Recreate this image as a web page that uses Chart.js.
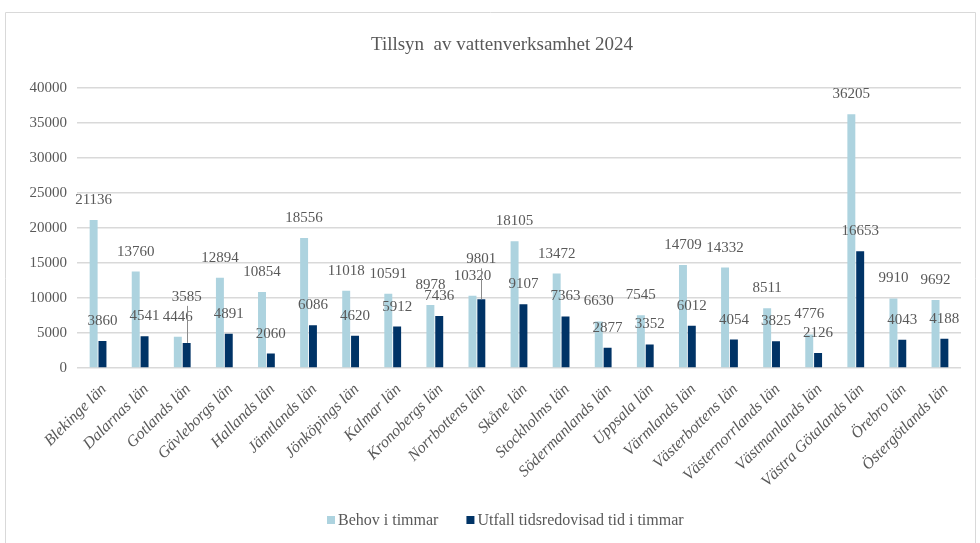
<!DOCTYPE html>
<html>
<head>
<meta charset="utf-8">
<title>Tillsyn av vattenverksamhet 2024</title>
<script src="https://cdn.jsdelivr.net/npm/chart.js@4.4.1/dist/chart.umd.min.js"></script>
<style>
  html, body { margin: 0; padding: 0; background: #fff; }
  #wrap { width: 980px; height: 543px; position: relative; }
</style>
</head>
<body>
<div id="wrap"><canvas id="chart" width="980" height="543"></canvas></div>
<script>
// data
const categories = [
  "Blekinge län", "Dalarnas län", "Gotlands län", "Gävleborgs län", "Hallands län",
  "Jämtlands län", "Jönköpings län", "Kalmar län", "Kronobergs län", "Norrbottens län",
  "Skåne län", "Stockholms län", "Södermanlands län", "Uppsala län", "Värmlands län",
  "Västerbottens län", "Västernorrlands län", "Västmanlands län", "Västra Götalands län",
  "Örebro län", "Östergötlands län"
]
const behov = [21136, 13760, 4446, 12894, 10854, 18556, 11018, 10591, 8978, 10320,
  18105, 13472, 6630, 7545, 14709, 14332, 8511, 4776, 36205, 9910, 9692]
const utfall = [3860, 4541, 3585, 4891, 2060, 6086, 4620, 5912, 7436, 9801,
  9107, 7363, 2877, 3352, 6012, 4054, 3825, 2126, 16653, 4043, 4188]
const seriesNames = ["Behov i timmar", "Utfall tidsredovisad tid i timmar"]
const yTicks = [0, 5000, 10000, 15000, 20000, 25000, 30000, 35000, 40000]
const titleText = "Tillsyn  av vattenverksamhet 2024"

const SERIF = "'Liberation Serif', 'Times New Roman', serif"
const TEXT = "#595959"
const GRID = "#d9d9d9"

// labels moved up by Excel to avoid overlap (dataset index -> bar index -> extra px)
const labelLift = { 1: { 2: 26, 9: 20 } }

// datalabels above each bar
const barLabels = {
  id: "barLabels",
  afterDatasetsDraw(chart) {
    const ctx = chart.ctx
    ctx.save()
    ctx.font = "15px " + SERIF
    ctx.fillStyle = TEXT
    ctx.textAlign = "center"
    ctx.textBaseline = "middle"
    chart.data.datasets.forEach((ds, di) => {
      const meta = chart.getDatasetMeta(di)
      meta.data.forEach((bar, i) => {
        const lift = (labelLift[di] && labelLift[di][i]) || 0
        const cy = bar.y - 20 - lift
        if (lift) {
          ctx.strokeStyle = "#8c8c8c"
          ctx.lineWidth = 1
          ctx.beginPath()
          ctx.moveTo(Math.round(bar.x) + 0.5, cy + 9)
          ctx.lineTo(Math.round(bar.x) + 0.5, bar.y)
          ctx.stroke()
        }
        ctx.fillText(String(ds.data[i]), bar.x, cy)
      })
    })
    ctx.restore()
  }
}

// frame, title and legend placed like the Excel original
const decor = {
  id: "decor",
  beforeDraw(chart) {
    const ctx = chart.ctx
    ctx.save()
    ctx.strokeStyle = GRID
    ctx.lineWidth = 1
    ctx.beginPath()
    ctx.moveTo(5.5, 560)
    ctx.lineTo(5.5, 12.5)
    ctx.lineTo(975.5, 12.5)
    ctx.lineTo(975.5, 560)
    ctx.stroke()
    ctx.restore()
  },
  afterDraw(chart) {
    const ctx = chart.ctx
    ctx.save()
    ctx.fillStyle = TEXT
    ctx.textBaseline = "middle"
    ctx.textAlign = "center"
    ctx.font = "19px " + SERIF
    ctx.fillText(titleText, 502, 45)

    // legend
    ctx.font = "16px " + SERIF
    ctx.textAlign = "left"
    let x = 327
    chart.data.datasets.forEach((ds) => {
      ctx.fillStyle = ds.backgroundColor
      ctx.fillRect(x, 516, 8, 8)
      ctx.fillStyle = TEXT
      ctx.fillText(ds.label, x + 11, 520.5)
      x += 11 + ctx.measureText(ds.label).width + 28
    })
    ctx.restore()
  }
}

new Chart(document.getElementById("chart"), {
  type: "bar",
  data: {
    labels: categories,
    datasets: [
      { label: seriesNames[0], data: behov, backgroundColor: "#add3df" },
      { label: seriesNames[1], data: utfall, backgroundColor: "#003366" }
    ]
  },
  options: {
    responsive: false,
    animation: false,
    layout: { padding: { left: 0, right: 19, top: 87.7, bottom: 44 } },
    datasets: { bar: { barPercentage: 0.9, categoryPercentage: 0.42 } },
    plugins: {
      title: { display: false },
      legend: { display: false },
      tooltip: { enabled: false }
    },
    scales: {
      x: {
        grid: { display: false },
        border: { display: false },
        ticks: {
          color: TEXT,
          font: { family: SERIF, size: 16, style: "italic" },
          maxRotation: 45,
          minRotation: 45,
          autoSkip: false,
          padding: 4,
          labelOffset: 6
        },
        afterFit(scale) { scale.height = 131 }
      },
      y: {
        min: 0,
        max: 40000,
        afterBuildTicks(scale) { scale.ticks = yTicks.map(v => ({ value: v })) },
        grid: { color: GRID, lineWidth: 1.5, drawTicks: false },
        border: { display: false },
        ticks: {
          color: TEXT,
          font: { family: SERIF, size: 15 },
          padding: 10,
          callback: (v) => String(v)
        },
        afterFit(scale) { scale.width = 77 }
      }
    }
  },
  plugins: [decor, barLabels]
})
</script>
</body>
</html>
